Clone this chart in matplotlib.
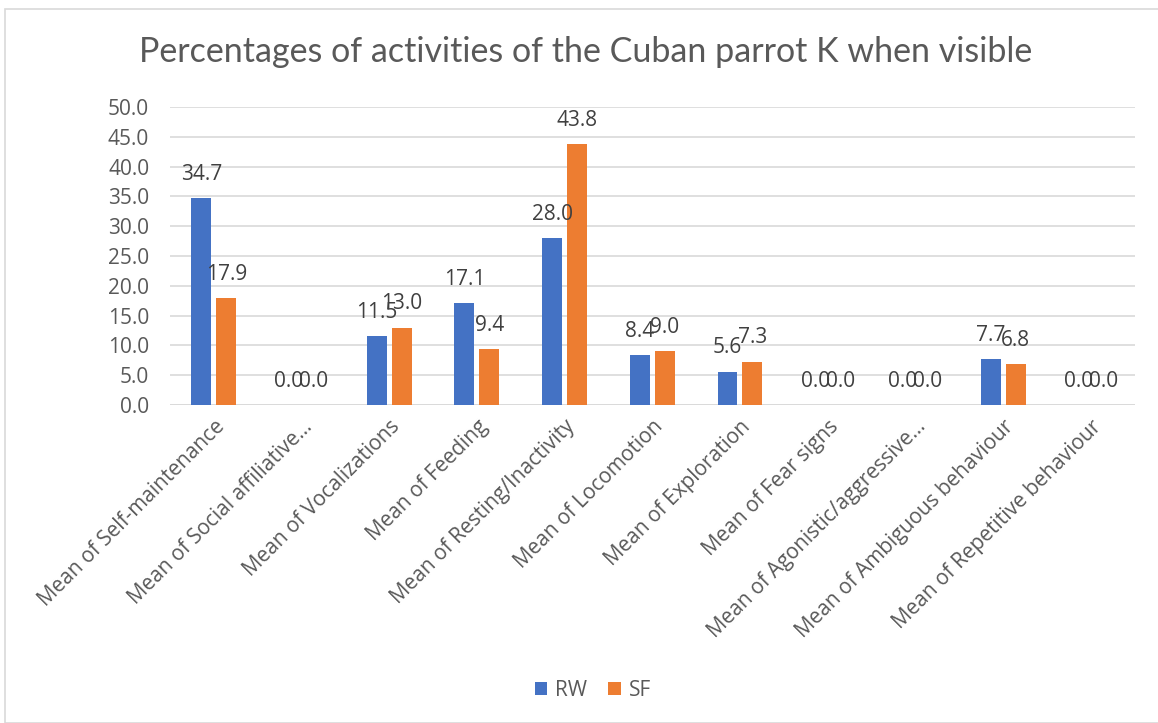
import matplotlib
matplotlib.use("Agg")
import matplotlib.pyplot as plt
from matplotlib.patches import Rectangle
import numpy as np

categories = [
    "Mean of Self-maintenance",
    "Mean of Social affiliative…",
    "Mean of Vocalizations",
    "Mean of Feeding",
    "Mean of Resting/Inactivity",
    "Mean of Locomotion",
    "Mean of Exploration",
    "Mean of Fear signs",
    "Mean of Agonistic/aggressive…",
    "Mean of Ambiguous behaviour",
    "Mean of Repetitive behaviour",
]
rw = [34.7, 0.0, 11.5, 17.1, 28.0, 8.4, 5.6, 0.0, 0.0, 7.7, 0.0]
sf = [17.9, 0.0, 13.0, 9.4, 43.8, 9.0, 7.3, 0.0, 0.0, 6.8, 0.0]
y_ticks = [0, 5, 10, 15, 20, 25, 30, 35, 40, 45, 50]

plt.rcParams["font.family"] = ["Open Sans", "DejaVu Sans"]
text_col = "#595959"
grid_col = "#d9d9d9"

fig = plt.figure(figsize=(11.58, 7.23), dpi=100)
fig.patches.append(Rectangle((0.004, 0.0), 1.0, 0.988, transform=fig.transFigure,
                             fill=False, edgecolor="#d9d9d9", linewidth=1.2))
ax = fig.add_axes([0.1468, 0.4398, 0.833, 0.4122])

x = np.arange(len(categories))
w = 0.228
off = 0.1425
b1 = ax.bar(x - off, rw, w, color="#4472C4", label="RW", zorder=3)
b2 = ax.bar(x + off, sf, w, color="#ED7D31", label="SF", zorder=3)

for bars, vals in ((b1, rw), (b2, sf)):
    for r, v in zip(bars, vals):
        ax.annotate(f"{v:.1f}", (r.get_x() + r.get_width() / 2, v),
                    xytext=(0, 9.5), textcoords="offset points",
                    ha="center", va="bottom", fontsize=15, color="#404040")

ax.set_xlim(-0.5, len(categories) - 0.5)
ax.set_ylim(0, 50)
ax.set_yticks(y_ticks)
ax.set_yticklabels([f"{t:.1f}" for t in y_ticks])
ax.grid(axis="y", color=grid_col, linewidth=1.2, zorder=0)
for s in ax.spines.values():
    s.set_visible(False)
ax.axhline(0, color=grid_col, linewidth=1.2, zorder=1)
ax.tick_params(axis="y", length=0, labelsize=15, labelcolor=text_col, pad=15)
ax.set_xticks(x)
ax.set_xticklabels(categories, rotation=45, ha="right", rotation_mode="anchor")
ax.tick_params(axis="x", length=0, labelsize=15, labelcolor=text_col, pad=8)

fig.text(0.506, 0.928, "Percentages of activities of the Cuban parrot K when visible",
         ha="center", va="center", fontsize=24.5, color=text_col,
         family=["Lato", "DejaVu Sans"])

fig.legend(handles=[b1, b2], labels=["RW", "SF"], loc="center",
           bbox_to_anchor=(0.512, 0.045), ncol=2, frameon=False,
           fontsize=15, labelcolor=text_col, handlelength=0.6, handleheight=0.6,
           handletextpad=0.4, columnspacing=1.0)

fig.savefig("out.png", dpi=100)
